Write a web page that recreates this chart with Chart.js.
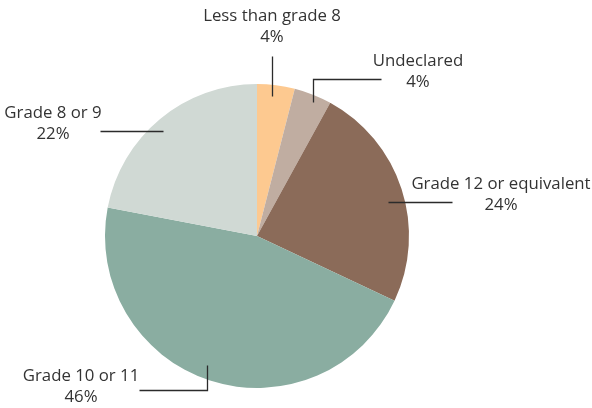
<!DOCTYPE html>
<html>
<head>
<meta charset="utf-8">
<script src="https://cdn.jsdelivr.net/npm/chart.js@4"></script>
<style>
 html, body { margin: 0; padding: 0; background: #fff; }
 #wrap { width: 592px; height: 408px; }
</style>
</head>
<body>
<div id="wrap"><canvas id="pie" width="592" height="408"></canvas></div>
<script>
/* ── DATA ─────────────────────────────────────────────── */
const categories = ['Less than grade 8', 'Undeclared', 'Grade 12 or equivalent', 'Grade 10 or 11', 'Grade 8 or 9'];
const shares = [4, 4, 24, 46, 22];
const colours = ['#fdc990', '#c0ada1', '#8b6b59', '#8aada1', '#d0d9d4'];

/* ── LABEL PLACEMENT (text centre x, first line y, leader path) ── */
const labelSpots = [
 { x: 272, y: 16, path: [[272, 56], [272, 96]] },
 { x: 418, y: 61, path: [[381, 79], [313, 79], [313, 102]] },
 { x: 501, y: 184, path: [[452, 202], [388, 202]] },
 { x: 81, y: 376, path: [[139, 390], [207, 390], [207, 365]] },
 { x: 53, y: 113, path: [[100, 131], [163, 131]] }
];

const labelPlugin = {
 id: 'pieLabels',
 afterDraw(chart) {
 const ctx = chart.ctx;
 ctx.save();
 ctx.strokeStyle = '#2b2b2b';
 ctx.lineWidth = 1.3;
 labelSpots.forEach((s, i) => {
 ctx.beginPath();
 s.path.forEach(([x, y], j) => j ? ctx.lineTo(x + .5, y + .5) : ctx.moveTo(x + .5, y + .5));
 ctx.stroke();
 ctx.fillStyle = '#333';
 ctx.font = '16.8px "Open Sans"';
 ctx.textAlign = 'center';
 ctx.textBaseline = 'middle';
 ctx.fillText(categories[i], s.x, s.y);
 ctx.fillText(shares[i] + '%', s.x, s.y + 21);
 });
 ctx.restore();
 }
};

new Chart(document.getElementById('pie').getContext('2d'), {
 type: 'pie',
 data: {
 labels: categories,
 datasets: [{
 data: shares,
 backgroundColor: colours,
 borderWidth: 0
 }]
 },
 options: {
 responsive: false,
 animation: false,
 layout: { padding: { top: 84, bottom: 20, left: 105, right: 183 } },
 plugins: {
 legend: { display: false },
 tooltip: { enabled: false }
 }
 },
 plugins: [labelPlugin]
});
</script>
</body>
</html>
